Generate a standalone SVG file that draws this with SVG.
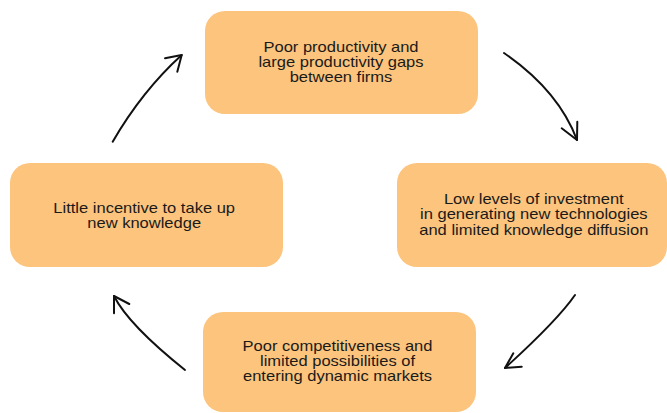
<svg xmlns="http://www.w3.org/2000/svg" width="667" height="413" viewBox="0 0 667 413">
<style>
.box{fill:#FCC47C;}
.lbl{font-family:"Liberation Sans",Arial,sans-serif;font-size:14px;fill:#1a1a1a;text-anchor:middle;}
.arr{fill:none;stroke:#111;stroke-width:2;stroke-linecap:round;stroke-linejoin:round;}
</style>
<rect width="667" height="413" fill="#fff"/>
<g id="node-productivity">
<rect class="box" x="205" y="11" width="273" height="103" rx="20"/>
<g transform="matrix(1.18 0 0 1 -61.38 0)">
<text class="lbl" x="341" y="52">Poor productivity and</text>
<text class="lbl" x="341" y="67">large productivity gaps</text>
<text class="lbl" x="341" y="82">between firms</text>
</g>
</g>
<g id="node-investment">
<rect class="box" x="397" y="163" width="270" height="104" rx="20"/>
<g transform="matrix(1.18 0 0 1 -96.08 0)">
<text class="lbl" x="533.8" y="204">Low levels of investment</text>
<text class="lbl" x="533.8" y="219.5">in generating new technologies</text>
<text class="lbl" x="533.8" y="235">and limited knowledge diffusion</text>
</g>
</g>
<g id="node-competitiveness">
<rect class="box" x="203" y="312" width="273" height="100" rx="20"/>
<g transform="matrix(1.18 0 0 1 -60.75 0)">
<text class="lbl" x="337.5" y="351.5">Poor competitiveness and</text>
<text class="lbl" x="337.5" y="366.5">limited possibilities of</text>
<text class="lbl" x="337.5" y="381.5">entering dynamic markets</text>
</g>
</g>
<g id="node-incentive">
<rect class="box" x="10" y="163" width="273" height="104" rx="20"/>
<g transform="matrix(1.18 0 0 1 -25.96 0)">
<text class="lbl" x="144.2" y="213">Little incentive to take up</text>
<text class="lbl" x="144.2" y="228">new knowledge</text>
</g>
</g>
<g id="connectors">
<path class="arr" d="M504,53 Q558.5,90.6 577,140"/>
<polyline class="arr" points="561.7,128.3 577,140 577.3,121.7"/>
<path class="arr" d="M575,295 Q557.6,320.2 505,368"/>
<polyline class="arr" points="513.3,353.3 505,368 521.7,366.7"/>
<path class="arr" d="M185,370 Q128.4,324.7 114,296"/>
<polyline class="arr" points="114,313.3 114,296 129.3,304"/>
<path class="arr" d="M112.7,141.7 Q142.1,91 181.7,55"/>
<polyline class="arr" points="165,58.3 181.7,55 177.3,71.7"/>
</g>
</svg>
